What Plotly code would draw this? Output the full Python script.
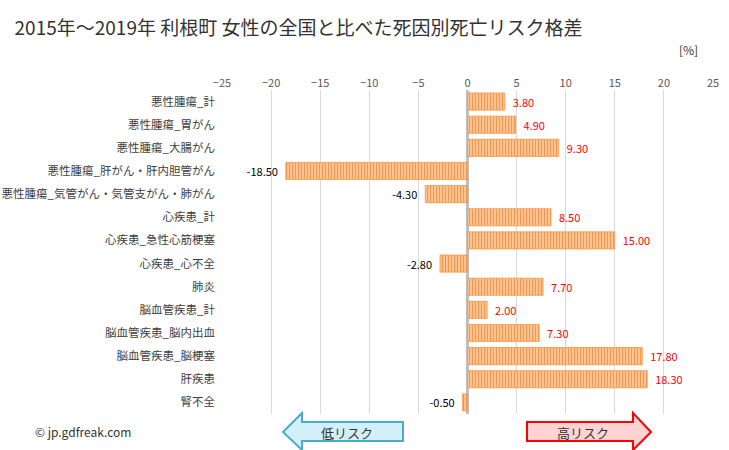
import plotly.graph_objects as go

categories = ["悪性腫瘍_計", "悪性腫瘍_胃がん", "悪性腫瘍_大腸がん", "悪性腫瘍_肝がん・肝内胆管がん",
              "悪性腫瘍_気管がん・気管支がん・肺がん", "心疾患_計", "心疾患_急性心筋梗塞", "心疾患_心不全",
              "肺炎", "脳血管疾患_計", "脳血管疾患_脳内出血", "脳血管疾患_脳梗塞", "肝疾患", "腎不全"]
values = [3.80, 4.90, 9.30, -18.50, -4.30, 8.50, 15.00, -2.80, 7.70, 2.00, 7.30, 17.80, 18.30, -0.50]
tick_vals = [-25, -20, -15, -10, -5, 0, 5, 10, 15, 20, 25]

FONT = "Noto Sans CJK JP"
W, H = 729, 450
L, R, T, B = 222, 16, 90, 36
PW, PH = W - L - R, H - T - B

def px(x):
    return (x - L) / PW

def py(y):
    return (H - B - y) / PH

NB = "\u00a0\u00a0"
labels = [(NB + f"{v:.2f}") if v > 0 else (f"{v:.2f}" + NB) for v in values]

fig = go.Figure()
fig.add_trace(go.Bar(
    y=categories, x=values, orientation="h", width=0.74,
    marker=dict(color="#FFFFFF", line=dict(color="#F79646", width=0.8),
                pattern=dict(shape="|", fgcolor="#F79646", bgcolor="#FDE3CC", size=3, solidity=0.6, fillmode="replace")),
    text=labels, textposition="outside", cliponaxis=False,
    textfont=dict(family=FONT, size=11, color=["#FF0000" if v > 0 else "#000000" for v in values]),
    hoverinfo="skip",
))

def arrow(x_tip, x_base, x_end, left, fill, stroke):
    yc, bt, bb, ht, hb = 432, 422, 441, 413, 450
    if left:
        pts = [(x_tip, yc), (x_base, ht), (x_base, bt), (x_end, bt), (x_end, bb), (x_base, bb), (x_base, hb)]
    else:
        pts = [(x_tip, yc), (x_base, hb), (x_base, bb), (x_end, bb), (x_end, bt), (x_base, bt), (x_base, ht)]
    path = "M " + " L ".join(f"{px(a):.5f},{py(b):.5f}" for a, b in pts) + " Z"
    fig.add_shape(type="path", path=path, xref="paper", yref="paper",
                  fillcolor=fill, line=dict(color=stroke, width=2))

arrow(283, 302, 403, True, "#D3EFF9", "#4BACC6")
arrow(651, 633, 527, False, "#FFD3D3", "#FF0000")

def note(x, y, text, size, xanchor="center"):
    fig.add_annotation(x=px(x), y=py(y), xref="paper", yref="paper", text=text, showarrow=False,
                       xanchor=xanchor, yanchor="middle", font=dict(family=FONT, size=size, color="#333333"))

note(347, 432, "低リスク", 13)
note(583, 432, "高リスク", 13)
note(33, 431, "© jp.gdfreak.com", 12, "left")
note(700, 50, "[%]", 12, "right")

fig.update_layout(
    width=W, height=H, margin=dict(l=L, r=R, t=T, b=B, pad=0, autoexpand=False),
    paper_bgcolor="white", plot_bgcolor="white", showlegend=False,
    title=dict(text="2015年～2019年 利根町 女性の全国と比べた死因別死亡リスク格差", x=0.02, xanchor="left",
               y=1 - 28 / H, yanchor="middle", font=dict(family=FONT, size=19, color="#333333")),
    xaxis=dict(range=[-25, 25], tickvals=tick_vals, side="top", showgrid=True, gridcolor="#D9D9D9", gridwidth=1,
               zeroline=True, zerolinecolor="#BFBFBF", zerolinewidth=3, showline=False, ticks="",
               automargin=False, tickfont=dict(family=FONT, size=11, color="#595959")),
    yaxis=dict(autorange="reversed", showgrid=False, ticks="", showline=False, automargin=False,
               tickfont=dict(family=FONT, size=11.5, color="#404040"), ticklabelstandoff=6),
    bargap=0.26,
)
fig.write_html("out.html", config={"displayModeBar": False},
               post_script="document.body.style.margin='0';document.body.style.overflow='hidden';")
